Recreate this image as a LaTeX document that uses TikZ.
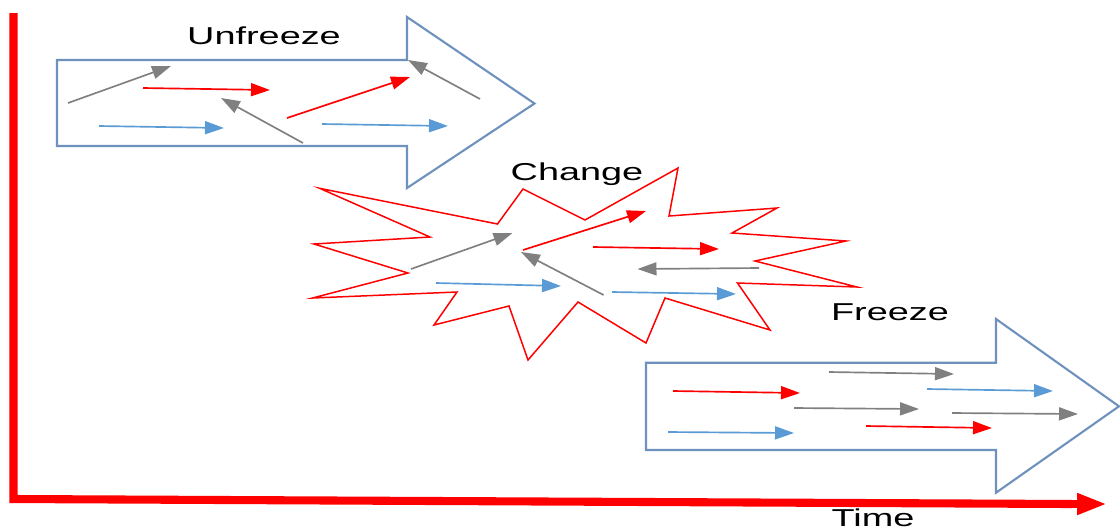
\documentclass[tikz,border=0pt]{standalone}
\usepackage{fontspec}
\newfontfamily\widesans[FakeStretch=1.55]{Liberation Sans}
\usetikzlibrary{arrows.meta}
\definecolor{outlineblue}{RGB}{110,145,190}
\definecolor{arrblue}{RGB}{91,155,213}
\definecolor{arrgray}{RGB}{128,128,128}
\definecolor{arrred}{RGB}{255,0,0}
\tikzset{
  bigarrow/.style={draw=outlineblue, line width=1.2pt, line join=miter},
  burst/.style={draw=arrred, line width=0.85pt, line join=miter},
  small/.style={line width=0.95pt, -{Triangle[length=10.8pt,width=7.4pt]}},
  sred/.style={small, draw=arrred, fill=arrred},
  sgray/.style={small, draw=arrgray, fill=arrgray},
  sblue/.style={small, draw=arrblue, fill=arrblue},
  axis/.style={draw=arrred, line width=4.6pt},
  lbl/.style={inner sep=0pt, text=black, font=\widesans\fontsize{13.9}{16}\selectfont},
}
\begin{document}
\begin{tikzpicture}[x=0.02cm, y=-0.02cm]
\useasboundingbox (0,0) rectangle (1120,529);

% axes
\coordinate (top) at (13.5,13);
\coordinate (corner) at (13.5,499);
\coordinate (tend) at (1107,504);
\draw[axis] (top) -- (corner) -- ([xshift=-20pt]tend);
\draw[axis, -{Triangle[length=17pt,width=11.3pt]}] ([xshift=-25pt]tend) -- (tend);
\node[lbl, anchor=base] (time) at (873,526) {Time};

% Unfreeze arrow
\draw[bigarrow] (57,60) -- (407,60) -- (407,17) -- (534.5,103.5) -- (407,188) -- (407,146) -- (57,146) -- cycle;
\node[lbl] (unfreeze) at (264,36) {Unfreeze};
\draw[sgray] (68,103) -- (171,66);
\draw[sred] (143,88) -- (270,90);
\draw[sblue] (99,126) -- (224,128);
\draw[sgray] (303,143) -- (221,98);
\draw[sred] (287,118) -- (410,77);
\draw[sblue] (322,124) -- (448,126);
\draw[sgray] (480,99) -- (408,60);

% Change starburst
\draw[burst] (319.6,188.3) -- (497.5,224) -- (523,189) -- (585,220) -- (678,168)
  -- (669,216) -- (777,208) -- (732,233) -- (846,241) -- (755,261) -- (857,287)
  -- (737.5,283) -- (770,330) -- (665,298) -- (646,343) -- (578,302) -- (528,360)
  -- (509,306) -- (434,325) -- (457,292) -- (312.5,298) -- (408,273) -- (314,244)
  -- (430,237) -- cycle;
\node[lbl] (change) at (577,174) {Change};
\draw[sgray] (411,269) -- (512.5,233);
\draw[sred] (523,250) -- (646,211);
\draw[sred] (593,247) -- (719,249);
\draw[sgray] (759,268) -- (637.5,269);
\draw[sblue] (436,283) -- (561,286);
\draw[sgray] (603.6,295) -- (521,252);
\draw[sblue] (612,292) -- (736,294);

% Freeze arrow
\draw[bigarrow] (646,362.7) -- (996,362.7) -- (996,319) -- (1119,406.3) -- (996,492.7) -- (996,450) -- (646,450) -- cycle;
\node[lbl] (freeze) at (890,312.7) {Freeze};
\draw[sgray] (829,372) -- (954,374);
\draw[sred] (673,391) -- (800,393);
\draw[sblue] (927,389) -- (1053,391);
\draw[sgray] (794,408) -- (919,409);
\draw[sgray] (952,413) -- (1078,414);
\draw[sred] (866,426) -- (992,428);
\draw[sblue] (668,432) -- (794,433);
\end{tikzpicture}
\end{document}
